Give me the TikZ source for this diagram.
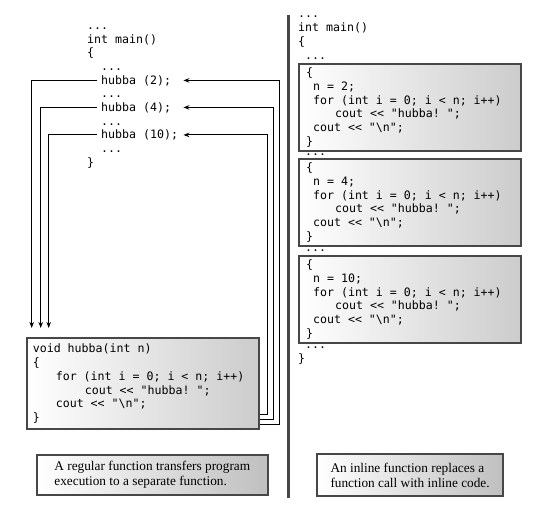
\documentclass[tikz,border=0pt]{standalone}
\usepackage{fontspec}
\setmainfont{Liberation Serif}
\setmonofont{DejaVu Sans Mono}
\usetikzlibrary{arrows.meta, calc}
\definecolor{boxgray}{HTML}{474747}
\newcommand{\codefont}{\ttfamily\fontsize{11.6}{13.9}\selectfont}
\newcommand{\notefont}{\rmfamily\fontsize{13.3}{15}\selectfont}

\begin{document}
\begin{tikzpicture}[x=1pt, y=-1pt,
        codeline/.style={anchor=base west, inner sep=0pt, font=\codefont},
        callline/.style={anchor=base west, inner xsep=4pt, inner ysep=0pt, text width=78pt, align=flush left, font=\codefont},
        codebox/.style={anchor=north west, draw=boxgray, line width=2.2pt, left color=white, right color=black!20, align=flush left, font=\codefont},
        notebox/.style={anchor=north west, draw=boxgray, line width=2.2pt, left color=white, right color=black!25, align=left, font=\notefont},
        callarrow/.style={-{Stealth[length=6pt,width=4.5pt]}, line width=1.1pt}]
        \useasboundingbox (0,0) rectangle (556,507);

        \node[codeline] (ldots1) at (87,29) {...};
        \node[codeline] (lmain) at (87,43) {int main()};
        \node[codeline] (lopen) at (87,56.5) {\{};
        \node[codeline] (ldots2) at (101,70) {...};
        \node[callline] (call2) at (97,84) {hubba (2);};
        \node[codeline] (ldots3) at (101,97.5) {...};
        \node[callline] (call4) at (97,111) {hubba (4);};
        \node[codeline] (ldots4) at (101,125) {...};
        \node[callline] (call10) at (97,138.5) {hubba (10);};
        \node[codeline] (ldots5) at (101,152) {...};
        \node[codeline] (lclose) at (87,166) {\}};

        \node[codebox, text width=220pt, inner xsep=6pt, minimum height=91pt] (func) at (25.7,337) {void hubba(int n)\\ \{\\ \hspace*{23pt}for (int i = 0; i < n; i++)\\ \hspace*{52pt}cout << "hubba! ";\\ \hspace*{23pt}cout << "\textbackslash n";\\ \}};

        \coordinate (in2) at ([xshift=6pt,yshift=9pt]func.north west);
        \coordinate (in4) at ([xshift=15pt,yshift=9pt]func.north west);
        \coordinate (in10) at ([xshift=23pt,yshift=9pt]func.north west);
        \draw[callarrow] (call2.west) -| (in2);
        \draw[callarrow] (call4.west) -| (in4);
        \draw[callarrow] (call10.west) -| (in10);
        \draw[callarrow] ([yshift=6pt]func.south east) -- ++(20,0) |- (call2.east);
        \draw[callarrow] ([yshift=11pt]func.south east) -- ++(14,0) |- (call4.east);
        \draw[callarrow] ([yshift=16pt]func.south east) -- ++(8,0) |- (call10.east);

        \node[notebox, minimum width=231pt, minimum height=40pt] (regnote) at (35.7,454) {A regular function transfers program\\execution to a separate function.};

        \fill[boxgray] (286.5,15) rectangle (290,498);

        \node[codeline] (rdots1) at (298,17) {...};
        \node[codeline] (rmain) at (298,31.5) {int main()};
        \node[codeline] (ropen) at (298,45.5) {\{};
        \node[codeline] (rdots2) at (305,59) {...};
        \node[codebox, text width=208pt, inner xsep=7pt, minimum height=84pt] (inline2) at (298,63) {\{\\ \hspace*{7pt}n = 2;\\ \hspace*{7pt}for (int i = 0; i < n; i++)\\ \hspace*{29pt}cout << "hubba! ";\\ \hspace*{7pt}cout << "\textbackslash n";\\ \}};
        \node[codeline] (rdots3) at (305,155) {...};
        \node[codebox, text width=208pt, inner xsep=7pt, minimum height=84pt] (inline4) at (298,158) {\{\\ \hspace*{7pt}n = 4;\\ \hspace*{7pt}for (int i = 0; i < n; i++)\\ \hspace*{29pt}cout << "hubba! ";\\ \hspace*{7pt}cout << "\textbackslash n";\\ \}};
        \node[codeline] (rdots4) at (305,251) {...};
        \node[codebox, text width=208pt, inner xsep=7pt, minimum height=84pt] (inline10) at (298,255) {\{\\ \hspace*{7pt}n = 10;\\ \hspace*{7pt}for (int i = 0; i < n; i++)\\ \hspace*{29pt}cout << "hubba! ";\\ \hspace*{7pt}cout << "\textbackslash n";\\ \}};
        \node[codeline] (rdots5) at (305,348) {...};
        \node[codeline] (rclose) at (298,362) {\}};

        \node[notebox, minimum width=186pt, minimum height=42pt] (inlnote) at (316,453) {An inline function replaces a\\function call with inline code.};
    \end{tikzpicture}
\end{document}
